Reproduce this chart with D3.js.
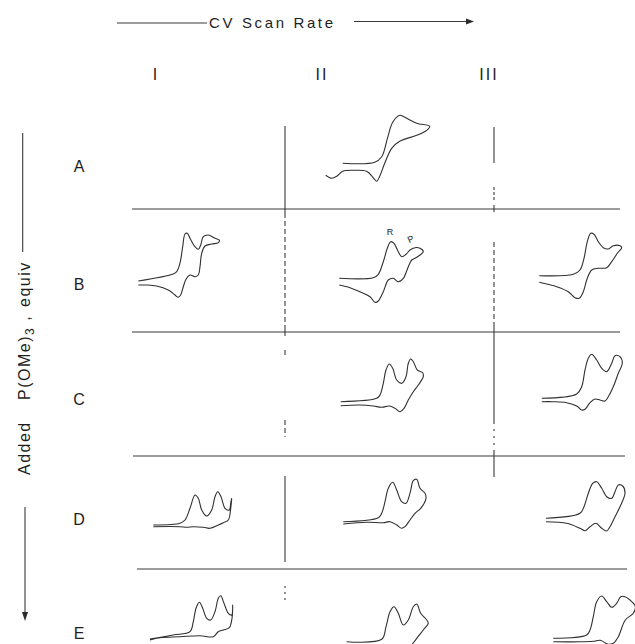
<!DOCTYPE html>
<meta charset="utf-8">
<html>
<head>
<script src="https://d3js.org/d3.v7.min.js"></script>
<style>
  body { margin: 0; background: #fff; }
  .cv { fill: none; stroke: #303030; stroke-width: 1.1px; stroke-linejoin: round; }
  .rule { fill: none; stroke: #3a3a3a; stroke-width: 1.1px; }
  text { font-family: "Liberation Sans", Arial, sans-serif; fill: #1e1e1e; }
</style>
</head>
<body>
<script>
// labels
var rowLabels = ["A", "B", "C", "D", "E"];
var colLabels = ["I", "II", "III"];

// voltammograms: [E, i], forward sweep then reverse sweep
// (arbitrary units, E from start of sweep, current positive up)
var cvA2 = [[0,0],[32,1],[39,6.6],[45,26],[50,41],[57,48],[62,46],[74,40],[87,37],
            [84,33],[74,28],[57,22],[49,15],[42,0],[37,-13],[34,-18],[31,-15],[24,-8],[10,-7],[0,-8],[-6,-13],[-11,-15],[-17,-12]];
var cvB1 = [[0,0],[35,7],[38.4,9.3],[41.7,18],[44.4,34.3],[46.7,47],[49,47.7],[51.7,42.7],[56.7,34.3],[60,31.7],[62.4,36],[65,44.3],[70,46],[76.7,42.7],[81,41],
            [80,38.3],[73.4,37],[66.7,35],[63.4,27.7],[61.7,14.3],[60,6],[56.7,4.3],[51.7,6],[47.7,1.7],[45,-5.7],[42.4,-14],[40,-16.3],[36.7,-14],[30,-9],[18.4,-5],[8.4,-4],[0,-4]];
var cvB2 = [[0,0],[34,0.6],[39,4],[44,16.6],[48,30],[51.4,36.6],[54.7,35],[59,26.6],[62.4,21.6],[66.7,24],[70.7,28.3],[75.7,30.6],[80.7,30],[84,26.6],
            [80.7,23.3],[75.7,20],[72.4,18.3],[69,11.6],[64,0],[59,-3.4],[54,0],[49,-1.7],[44,-13.4],[39,-22.7],[35.7,-24],[30.7,-18.4],[20.7,-13.4],[10.7,-9.4],[0,-6.7]];
var cvB3 = [[0,0],[34,1.4],[40.7,5.7],[44.7,17.4],[48,34],[51.4,42.4],[54.7,41.4],[59,34],[64,28],[69,26.7],[74,30],[80.7,30],[82.4,28],
            [78,22.4],[72.4,14],[67.4,8],[59,7.4],[52.4,5.7],[48,-2.6],[44,-16],[40,-22.6],[35.7,-22],[29,-16],[17.4,-11],[4,-7.6],[0,-6.6]];
var cvC2 = [[0,0],[36,3.4],[39.3,6.7],[42.6,18.4],[45.3,31.7],[48.6,37.7],[52,33.4],[56,21.7],[61,18.4],[65.3,25],[67.6,38.4],[70,42.7],[72.6,40],[76.6,31.7],[82,29],[82.6,25],
            [77.6,16.7],[72.6,10],[67.6,1.7],[63.3,-6.6],[59.3,-10],[54.3,-6.6],[48.6,-4.3],[41,-5.6],[32.6,-4.3],[19.3,-3.3],[0,-4]];
var cvC3 = [[0,0],[35,4.3],[40,11.6],[43.3,28.3],[46.6,40],[50,44],[55,38.3],[60,30],[65,26.6],[70,35],[73.3,42.6],[78.3,41.6],[80.6,35],
            [76.6,25],[71.6,11.6],[66.6,1.6],[63.3,-2.7],[58.3,-1.7],[53.3,-0.7],[48.3,-4.4],[43.3,-11],[40,-11.7],[35,-7.7],[25,-4.4],[11.6,-3.4],[0,-3.4]];
var cvD1 = [[0,0],[26.7,1.7],[31.7,5],[36.7,16.7],[41.7,30],[45,26.7],[48.4,15],[53.4,9],[58.4,15],[61.7,28.3],[64.4,33.3],[67.7,28.3],[71.7,16.7],[76,15],[77.4,21.7],[78.4,26.7],
            [77.4,16.7],[75,5],[70,2.3],[65,0],[56.7,-3.3],[50,-2.3],[40,-1.7],[33.4,-2.3],[26.7,-1.7],[0,-1.7]];
var cvD2 = [[0,0],[35,4],[38.4,8.4],[41.7,20],[45,33.4],[49.4,39.4],[53.4,31.7],[58.4,20],[62.7,18.4],[66.7,28.4],[70,41],[73.4,42.4],[76.7,33.4],[81.7,28.4],[82.7,23.4],
            [77.4,13.4],[71.7,8.4],[66.7,1.7],[61.7,-5],[58.4,-6.6],[53.4,-3.3],[46.7,0],[40,-1],[23.4,-0.6],[0,-2.3]];
var cvD3 = [[0,0],[34,5],[38,11.6],[42.3,25],[46.7,35],[50.7,36.6],[55.7,30],[60.7,21.6],[65.7,20],[69,26.6],[72.3,33.3],[76.7,32.3],[79,25],
            [74,11.6],[69,1.6],[64,-8.4],[60.7,-12.7],[55.7,-10],[50,-5],[44,-8.4],[39,-12.4],[34,-10],[20.7,-5],[0,-3.4]];
var cvE1 = [[0,0],[23.3,4],[40,7.3],[43.3,17.3],[46,30.7],[49.3,36.7],[52.7,30.7],[56.7,20.7],[60.7,19],[65,27.3],[68.3,40.7],[70.7,43.3],[74,35.7],[78.3,25.7],[81.7,24],[82.7,34],
            [82,20.7],[79.3,11.3],[73.3,9],[68.3,7.3],[63.3,2.3],[50,3.3],[30,2.3],[10,1.3],[0,-1]];
var cvE2 = [[0,0],[35,2.4],[39.3,15],[43.3,30],[47.3,35],[51.6,28.4],[56.6,16.7],[61.6,21.7],[66.6,35],[70,37.7],[74,28.4],[80,21.7],[81.6,18.4],
            [76.6,11.7],[70,3.4],[65,-3.3],[60,-10],[55,-10],[45,-8],[36,-6],[20,-4],[0,-3]];
var cvE3 = [[0,0],[33.4,3.3],[36.7,8.3],[40,21.6],[43.4,36.6],[48.4,42.3],[53.4,36.6],[58.4,31],[63.4,35],[67.4,41.6],[71.7,41.6],[76.7,38.3],[82,32],
            [80,25],[72,18.3],[65,1.6],[60,-5],[55,-6],[47,-2],[40,-3],[25,-3.5],[0,-3.4]];

// where each trace sits on the page (start of the sweep)
var place = [
  {curve: cvA2, px: 342.7, py: 163.3},
  {curve: cvB1, px: 138.3, py: 281},
  {curve: cvB2, px: 339.3, py: 278.3},
  {curve: cvB3, px: 539.3, py: 275.7},
  {curve: cvC2, px: 340.7, py: 401.7},
  {curve: cvC3, px: 541.7, py: 398.3},
  {curve: cvD1, px: 153.3, py: 525},
  {curve: cvD2, px: 343.3, py: 521.7},
  {curve: cvD3, px: 546,   py: 518.3},
  {curve: cvE1, px: 150,   py: 639},
  {curve: cvE2, px: 346.7, py: 641.7},
  {curve: cvE3, px: 553.3, py: 638.3}
];

var width = 635, height = 644;

var svg = d3.select("body").append("svg")
    .attr("width", width)
    .attr("height", height)
    .style("display", "block");

svg.append("rect").attr("width", width).attr("height", height).attr("fill", "#fff");

// scales: 1 unit of E / i -> 1 px
var x = d3.scaleLinear().domain([0, 100]).range([0, 100]);
var y = d3.scaleLinear().domain([0, 100]).range([0, -100]);

var line = d3.line()
    .curve(d3.curveCatmullRom.alpha(0.5))
    .x(function(d) { return x(d[0]); })
    .y(function(d) { return y(d[1]); });

// grid rules between the cells
var hRules = [
  {y: 209, x1: 132, x2: 620},
  {y: 332, x1: 132, x2: 620},
  {y: 456, x1: 133, x2: 625},
  {y: 569, x1: 137, x2: 627}
];
var vRules = [
  {x: 285, y1: 126, y2: 213, dash: null},
  {x: 285, y1: 213, y2: 330, dash: "5 3"},
  {x: 285, y1: 330, y2: 336, dash: null},
  {x: 285, y1: 350, y2: 355, dash: null},
  {x: 285, y1: 420, y2: 437, dash: "5 3"},
  {x: 285, y1: 476, y2: 562, dash: null},
  {x: 285, y1: 586, y2: 604, dash: "2 4"},
  {x: 494, y1: 127, y2: 163, dash: null},
  {x: 494, y1: 187, y2: 202, dash: "3 2"},
  {x: 494, y1: 205, y2: 212, dash: null},
  {x: 494, y1: 242, y2: 327, dash: "5 3"},
  {x: 494, y1: 327, y2: 422, dash: null},
  {x: 494, y1: 422, y2: 452, dash: "2 5"},
  {x: 494, y1: 452, y2: 477, dash: null}
];

svg.selectAll(".hrule").data(hRules).enter().append("line")
    .attr("class", "rule")
    .attr("x1", function(d) { return d.x1; })
    .attr("x2", function(d) { return d.x2; })
    .attr("y1", function(d) { return d.y; })
    .attr("y2", function(d) { return d.y; });

svg.selectAll(".vrule").data(vRules).enter().append("line")
    .attr("class", "rule")
    .attr("x1", function(d) { return d.x; })
    .attr("x2", function(d) { return d.x; })
    .attr("y1", function(d) { return d.y1; })
    .attr("y2", function(d) { return d.y2; })
    .attr("stroke-dasharray", function(d) { return d.dash; });

// the traces
place.forEach(function(p) {
  svg.append("g")
      .attr("transform", "translate(" + p.px + "," + p.py + ")")
    .append("path")
      .datum(p.curve)
      .attr("class", "cv")
      .attr("d", line);
});

// peak labels in B-II
svg.append("text").attr("x", 390).attr("y", 235)
    .attr("text-anchor", "middle").style("font-size", "9px").text("R");
svg.append("text").attr("transform", "translate(412,242) rotate(-25)")
    .attr("text-anchor", "middle").style("font-size", "9px").text("P");

// top: scan rate arrow
svg.append("line").attr("class", "rule").attr("x1", 117).attr("x2", 207).attr("y1", 23).attr("y2", 23);
svg.append("line").attr("class", "rule").attr("x1", 354).attr("x2", 468).attr("y1", 21.5).attr("y2", 21.5);
svg.append("path").attr("d", "M466,18.5 L474,21.5 L466,24.5 Z").attr("fill", "#2b2b2b");
svg.append("text")
    .attr("x", 209).attr("y", 27.5)
    .attr("textLength", 124).attr("lengthAdjust", "spacing")
    .style("font-size", "15px")
    .text("CV Scan Rate");

// column labels
var colX = [156, 322, 489];
svg.selectAll(".col").data(colLabels).enter().append("text")
    .attr("x", function(d, i) { return colX[i]; })
    .attr("y", 80)
    .attr("text-anchor", "middle")
    .style("font-size", "16px")
    .style("letter-spacing", "2px")
    .text(function(d) { return d; });

// row labels
var rowY = [172, 290, 405, 525, 639];
svg.selectAll(".row").data(rowLabels).enter().append("text")
    .attr("x", 79)
    .attr("y", function(d, i) { return rowY[i]; })
    .attr("text-anchor", "middle")
    .style("font-size", "16px")
    .text(function(d) { return d; });

// left: added P(OMe)3 arrow
svg.append("line").attr("class", "rule").attr("x1", 22.7).attr("x2", 22.7).attr("y1", 133).attr("y2", 252);
svg.append("line").attr("class", "rule").attr("x1", 25).attr("x2", 25).attr("y1", 507).attr("y2", 614);
svg.append("path").attr("d", "M22,612 L25,621 L28,612 Z").attr("fill", "#2b2b2b");

svg.append("text")
    .attr("transform", "translate(30,475) rotate(-90)")
    .style("font-size", "16px").style("letter-spacing", "1.5px")
    .text("Added");
var pt = svg.append("text")
    .attr("transform", "translate(30,400) rotate(-90)")
    .style("font-size", "16px").style("letter-spacing", "1.5px");
pt.append("tspan").text("P(OMe)");
pt.append("tspan").attr("dy", 4).style("font-size", "12px").text("3");
pt.append("tspan").attr("dy", -4).text(" ,");
svg.append("text")
    .attr("transform", "translate(30,307) rotate(-90)")
    .style("font-size", "16px").style("letter-spacing", "1.5px")
    .text("equiv");
</script>
</body>
</html>
